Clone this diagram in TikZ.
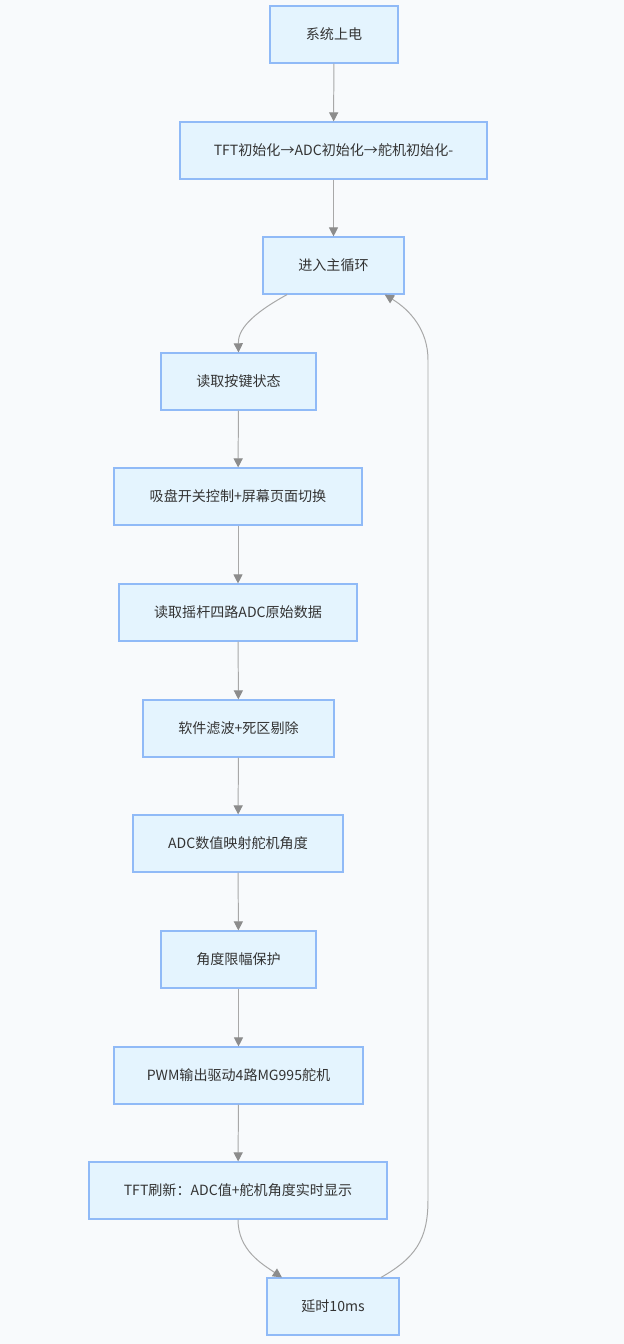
\documentclass[tikz,border=0pt]{standalone}
\usepackage{fontspec}
\setmainfont{Noto Sans CJK SC}
\usepackage{xcolor}
\usepackage{tikz}
\usetikzlibrary{arrows.meta}
\definecolor{bg}{HTML}{F8FAFC}
\definecolor{boxfill}{HTML}{E4F4FE}
\definecolor{boxline}{HTML}{90BAF7}
\definecolor{txt}{HTML}{333333}
\definecolor{edge}{HTML}{A8A8A8}
\definecolor{tip}{HTML}{8C8C8C}

\begin{document}
\begin{tikzpicture}[
  x=0.025cm, y=-0.025cm,
  box/.style={rectangle, draw=boxline, line width=0.8pt, fill=boxfill, minimum height=1.425cm, text=txt, font=\fontsize{10}{12}\selectfont, inner sep=0pt},
  arrow/.style={-{Triangle[length=6.5pt,width=6.5pt,color=tip]}, edge, line width=0.7pt},
]
  \fill[bg] (0,0) rectangle (624,1344);
  \useasboundingbox (0,0) rectangle (624,1344);

  \node[box, minimum width=3.2cm] (power) at (334,34.5) {系统上电};
  \node[box, minimum width=7.675cm] (init) at (333.5,150.5) {TFT初始化→ADC初始化→舵机初始化-};
  \node[box, minimum width=3.525cm] (loop) at (333.5,265.5) {进入主循环};
  \node[box, minimum width=3.875cm] (key) at (238.5,381.5) {读取按键状态};
  \node[box, minimum width=6.2cm] (pump) at (238,496.5) {吸盘开关控制+屏幕页面切换};
  \node[box, minimum width=5.95cm] (adc) at (238,612.5) {读取摇杆四路ADC原始数据};
  \node[box, minimum width=4.775cm] (filter) at (238.5,728.5) {软件滤波+死区剔除};
  \node[box, minimum width=5.25cm] (map) at (238,843.5) {ADC数值映射舵机角度};
  \node[box, minimum width=3.875cm] (limit) at (238.5,959.5) {角度限幅保护};
  \node[box, minimum width=6.225cm] (pwm) at (238.5,1075.5) {PWM输出驱动4路MG995舵机};
  \node[box, minimum width=7.45cm] (tft) at (238,1190.5) {TFT刷新：ADC值+舵机角度实时显示};
  \node[box, minimum width=3.3cm] (delay) at (333,1306.5) {延时10ms};

  \draw[arrow] (power) -- (init);
  \draw[arrow] (init) -- (loop);
  \draw[arrow] ([xshift=-1.16cm]loop.south) .. controls (250,315) and (238,330) .. (key.north);
  \draw[arrow] (key) -- (pump);
  \draw[arrow] (pump) -- (adc);
  \draw[arrow] (adc) -- (filter);
  \draw[arrow] (filter) -- (map);
  \draw[arrow] (map) -- (limit);
  \draw[arrow] (limit) -- (pwm);
  \draw[arrow] (pwm) -- (tft);
  \draw[arrow] (tft.south) .. controls (238,1250) and (262,1264) .. ([xshift=-1.275cm]delay.north);
  \draw[arrow] ([xshift=1.2cm]delay.north) .. controls (415,1258) and (428,1240) .. (428,1200)
    -- (428,360) .. controls (428,330) and (410,310) .. ([xshift=1.28cm]loop.south);
\end{tikzpicture}
\end{document}
